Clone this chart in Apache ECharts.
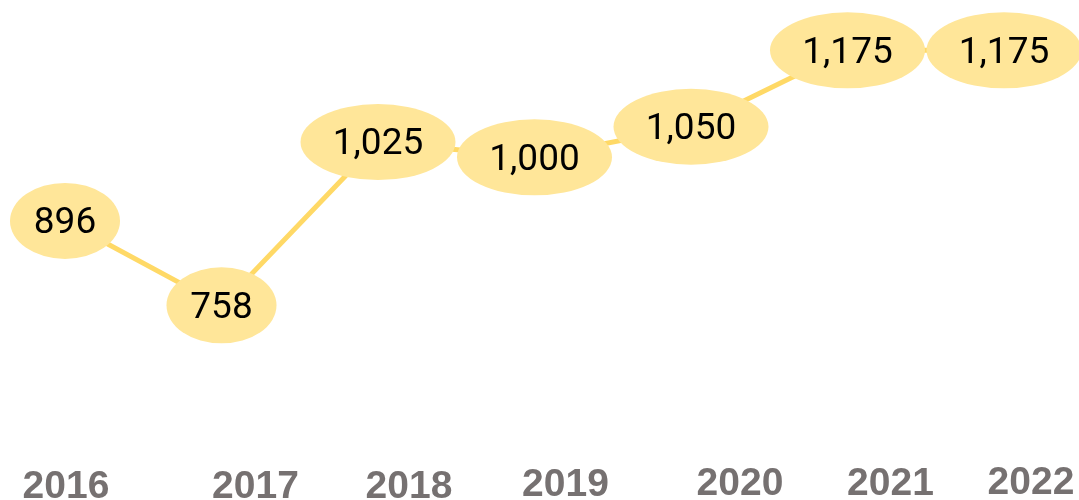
<!DOCTYPE html>
<html>
<head>
<meta charset="utf-8">
<script src="https://cdn.jsdelivr.net/npm/echarts@6/dist/echarts.min.js"></script>
<style>
  html, body { margin: 0; padding: 0; background: #fff; }
  #chart { width: 1079px; height: 500px; }
</style>
</head>
<body>
<div id="chart"></div>
<script>
const years = ['2016', '2017', '2018', '2019', '2020', '2021', '2022'];
const values = [896, 758, 1025, 1000, 1050, 1175, 1175];

// label nudges (px) so the year labels sit like the original
const labelShiftX = [1, 34, 31, 31, 49, 43, 27];
const labelShiftY = [7, 7, 7, 4, 2, 1, 0];

const yearFont = '"Liberation Sans", Arial, sans-serif';

const rich = {};
years.forEach((y, i) => {
    const dx = labelShiftX[i];
    rich['p' + i] = {
        fontSize: 39,
        fontWeight: 'bold',
        fontFamily: yearFont,
        color: '#767171',
        lineHeight: 39,
        padding: [labelShiftY[i], dx < 0 ? -2 * dx : 0, 0, dx > 0 ? 2 * dx : 0]
    };
});

const ellipse = 'path://M0,50 A50,50 0 1,1 100,50 A50,50 0 1,1 0,50 Z';
const fmt = v => v.toLocaleString('en-US');

const mChart = echarts.init(document.getElementById('chart'));

const options = {
    animation: false,
    grid: {
        left: 65,
        right: 75,
        top: 35,
        bottom: 98,
        containLabel: false,
        outerBoundsMode: 'none'
    },
    xAxis: {
        type: 'category',
        data: years,
        boundaryGap: false,
        axisLine: {show: false},
        axisTick: {show: false},
        splitLine: {show: false},
        axisLabel: {
            interval: 0,
            margin: 62,
            formatter: (value, idx) => '{p' + idx + '|' + value + '}',
            rich: rich
        }
    },
    yAxis: {
        type: 'value',
        show: false,
        min: 600,
        max: 1200,
        splitLine: {show: false}
    },
    series: [
        {
            type: 'line',
            data: values,
            symbol: ellipse,
            symbolSize: v => fmt(v).length > 3 ? [155, 76] : [110, 76],
            lineStyle: {
                color: '#FFD966',
                width: 5
            },
            itemStyle: {
                color: '#FFE699',
                borderWidth: 0
            },
            label: {
                show: true,
                position: 'inside',
                offset: [0, 3],
                formatter: p => fmt(p.value),
                color: '#000',
                fontFamily: 'Roboto',
                fontSize: 37
            },
            z: 2
        }
    ]
};

mChart.setOption(options);
</script>
</body>
</html>
